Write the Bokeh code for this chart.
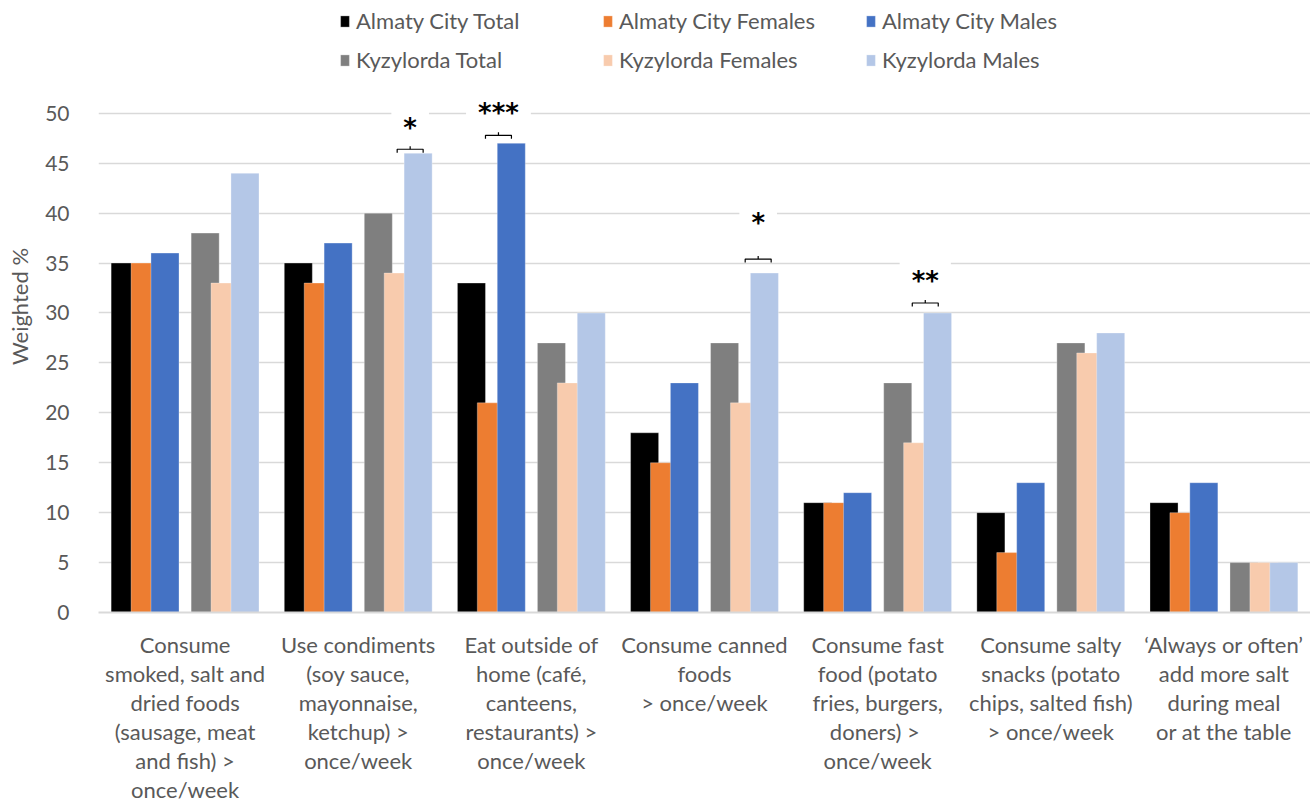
from bokeh.plotting import figure
from bokeh.models import FixedTicker, Legend, LegendItem, ColumnDataSource, Range1d
from bokeh.transform import dodge
from bokeh.core.properties import value
from bokeh.embed import file_html
from bokeh.resources import INLINE

# ---------------- data ----------------
categories = [
    "Consume\nsmoked, salt and\ndried foods\n(sausage, meat\nand fish) >\nonce/week",
    "Use condiments\n(soy sauce,\nmayonnaise,\nketchup) >\nonce/week",
    "Eat outside of\nhome (café,\ncanteens,\nrestaurants) >\nonce/week",
    "Consume canned\nfoods\n> once/week",
    "Consume fast\nfood (potato\nfries, burgers,\ndoners)  >\nonce/week",
    "Consume salty\nsnacks (potato\nchips, salted fish)\n> once/week",
    "\u2018Always or often\u2019\nadd more salt\nduring meal\nor at the table",
]
series_names = ["Almaty City Total", "Almaty City Females", "Almaty City Males",
                "Kyzylorda Total", "Kyzylorda Females", "Kyzylorda Males"]
almaty_total = [35, 35, 33, 18, 11, 10, 11]
almaty_females = [35, 33, 21, 15, 11, 6, 10]
almaty_males = [36, 37, 47, 23, 12, 13, 13]
kyzylorda_total = [38, 40, 27, 27, 23, 27, 5]
kyzylorda_females = [33, 34, 23, 21, 17, 26, 5]
kyzylorda_males = [44, 46, 30, 34, 30, 28, 5]
y_ticks = [0, 5, 10, 15, 20, 25, 30, 35, 40, 45, 50]

# significance annotations
sig_labels = ["*", "***", "*", "**"]
sig_category = [1, 2, 3, 4]
sig_offset = [0.30, -0.19, 0.31, 0.275]
sig_bracket_y = [46.4, 47.8, 35.4, 31.0]
sig_text_y = [48.9, 50.4, 39.4, 33.65]

# ---------------- styling ----------------
colors = ["#000000", "#ED7D31", "#4472C4", "#7F7F7F", "#F8CBAD", "#B4C7E7"]
slot_offsets = [-0.346, -0.231, -0.116, 0.116, 0.231, 0.346]
bar_width = 0.162
FONT = "Lato"
GREY_TXT = "#595959"
FS = "22px"

series_values = [almaty_total, almaty_females, almaty_males,
                 kyzylorda_total, kyzylorda_females, kyzylorda_males]

xc = [i + 0.5 for i in range(len(categories))]
data = {"x": xc}
for k, vals in enumerate(series_values):
    data[f"s{k}"] = vals
source = ColumnDataSource(data)

p = figure(width=1310, height=806, x_range=Range1d(0, 7), y_range=Range1d(0, 61.3),
           output_backend="svg", toolbar_location=None,
           min_border_left=98, min_border_right=0, min_border_top=0, min_border_bottom=193)
p.outline_line_color = None
p.background_fill_color = "white"

renderers = []
for k in range(6):
    r = p.vbar(x=dodge("x", slot_offsets[k], range=p.x_range), top=f"s{k}", width=bar_width,
               source=source, fill_color=colors[k], line_color="white", line_alpha=0.3, line_width=1)
    renderers.append(r)

# significance texts (white background breaks gridlines), then brackets
sx = [c + 0.5 + o for c, o in zip(sig_category, sig_offset)]
fs = 26
baseline_y = [t - 0.4 for t in sig_text_y]
p.text(x=sx, y=baseline_y, text=sig_labels, text_align="center", text_baseline="alphabetic",
       text_font=value("DejaVu Sans"), text_font_size=f"{fs}px", text_font_style="bold",
       text_color="black", background_fill_color="white", padding=(12, 6))

hw = 0.075
xs, ys = [], []
for x0, yb in zip(sx, sig_bracket_y):
    xs.append([x0 - hw, x0 - hw, x0 + hw, x0 + hw])
    ys.append([yb - 0.35, yb, yb, yb - 0.35])
    xs.append([x0, x0])
    ys.append([yb, yb + 0.3])
p.multi_line(xs=xs, ys=ys, line_color="black", line_width=1.2)

# axes
p.xgrid.visible = False
p.ygrid.ticker = FixedTicker(ticks=y_ticks)
p.ygrid.grid_line_color = "#D9D9D9"
p.ygrid.grid_line_width = 1.5

p.yaxis.ticker = FixedTicker(ticks=y_ticks)
p.yaxis.axis_line_color = None
p.yaxis.major_tick_line_color = None
p.yaxis.minor_tick_line_color = None
p.yaxis.major_label_text_font = FONT
p.yaxis.major_label_text_font_size = "21px"
p.yaxis.major_label_text_color = GREY_TXT
p.yaxis.major_label_standoff = 23
p.yaxis.axis_label = "Weighted %"
p.yaxis.axis_label_text_font = FONT
p.yaxis.axis_label_text_font_size = FS
p.yaxis.axis_label_text_font_style = "normal"
p.yaxis.axis_label_text_color = GREY_TXT
p.yaxis.axis_label_standoff = 9

p.xaxis.ticker = FixedTicker(ticks=xc)
p.xaxis.major_label_overrides = {x: lab for x, lab in zip(xc, categories)}
p.xaxis.axis_line_color = "#D9D9D9"
p.xaxis.axis_line_width = 2
p.xaxis.major_tick_line_color = None
p.xaxis.minor_tick_line_color = None
p.xaxis.major_label_text_font = FONT
p.xaxis.major_label_text_font_size = FS
p.xaxis.major_label_text_color = GREY_TXT
p.xaxis.major_label_text_line_height = 1.08
p.xaxis.major_label_standoff = 12

# legends: 3 columns x 2 rows
leg_x = [241, 504, 767]
for col in range(3):
    items = [LegendItem(label=series_names[col], renderers=[renderers[col]]),
             LegendItem(label=series_names[col + 3], renderers=[renderers[col + 3]])]
    leg = Legend(items=items, location=(leg_x[col], 539), orientation="vertical",
                 glyph_width=11, glyph_height=14, label_standoff=6, spacing=12,
                 padding=0, margin=0, border_line_color=None, background_fill_alpha=0,
                 label_text_font=FONT, label_text_font_size=FS, label_text_color=GREY_TXT)
    p.add_layout(leg)

open("out.html", "w").write(file_html(p, INLINE))
